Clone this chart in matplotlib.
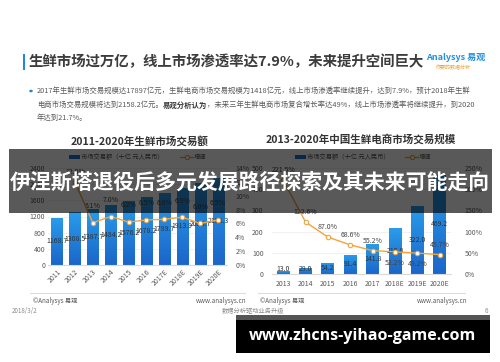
import matplotlib
matplotlib.use('Agg')
import matplotlib.pyplot as plt
import numpy as np
from matplotlib.patches import Rectangle, Circle
from matplotlib.lines import Line2D
from matplotlib.colors import LinearSegmentedColormap

plt.rcParams['font.family'] = ['Noto Sans CJK SC', 'DejaVu Sans']

# ---------------- data ----------------
left_years = ['2011', '2012', '2013', '2014', '2015', '2016', '2017E', '2018E', '2019E', '2020E']
left_values = [1168.7, 1308.5, 1387.7, 1484.2, 1576.2, 1678.2, 1789.7, 1913.9, 2028.7, 2158.3]
left_growth = [None, 12.0, 6.1, 7.0, 6.2, 6.5, 6.6, 6.9, 6.0, 6.5]

right_years = ['2013', '2014', '2015', '2016', '2017', '2018E', '2019E', '2020E']
right_values = [13.0, 29.0, 54.2, 91.4, 141.8, 215.8, 322.0, 469.2]
right_growth = [221.5, 122.6, 87.0, 68.6, 55.2, 52.2, 49.2, 45.7]
right_growth_below = [False, False, False, False, False, True, True, False]

left_yticks = [0, 400, 800, 1200, 1600, 2000, 2400]
left_rticks = [0, 2, 4, 6, 8, 10, 12, 14]
right_yticks = [0, 100, 200, 300, 400, 500]
right_rticks = [0, 50, 100, 150, 200, 250]

title = '生鲜市场过万亿，线上市场渗透率达7.9%，未来提升空间巨大'
bullet1 = '2017年生鲜市场交易规模达17897亿元，生鲜电商市场交易规模为1418亿元，线上市场渗透率继续提升，达到7.9%，预计2018年生鲜'
bullet2a = '电商市场交易规模将达到2158.2亿元。'
bullet2b = '易观分析认为'
bullet2c = '，未来三年生鲜电商市场复合增长率达49%，线上市场渗透率将继续提升，到2020'
bullet3 = '年达到21.7%。'
left_title = '2011-2020年生鲜市场交易额'
right_title = '2013-2020年中国生鲜电商市场交易规模'
legend_bar = '市场交易额（十亿 元人民币）'
legend_line = '增速'
banner = '伊涅斯塔退役后多元发展路径探索及其未来可能走向'
url = 'www.zhcns-yihao-game.com'

W, H = 500, 362
fig = plt.figure(figsize=(W / 100, H / 100), dpi=100)
fig.patch.set_facecolor('white')

def fx(px):
    return px / W

def fy(py):
    return 1 - py / H

TXT = '#595959'
ORANGE = '#f2a43a'
grad = LinearSegmentedColormap.from_list('g', ['#1b66c9', '#2a9cea'])

def grad_bars(ax, bars):
    img = np.linspace(0, 1, 64).reshape(-1, 1)
    for b in bars:
        x0, w, h = b.get_x(), b.get_width(), b.get_height()
        im = ax.imshow(img, extent=[x0, x0 + w, 0, h], origin='lower', cmap=grad,
                       aspect='auto', zorder=2)
        im.set_clip_path(b)
        b.set_alpha(0)

def style(ax):
    for s in ['top', 'left', 'right']:
        ax.spines[s].set_visible(False)
    ax.spines['bottom'].set_color('#d9d9d9')
    ax.spines['bottom'].set_linewidth(0.8)
    ax.grid(axis='y', color='#efefef', linewidth=0.6, zorder=0)
    ax.set_axisbelow(True)
    ax.tick_params(length=0, labelsize=5, colors=TXT, pad=2)

# ---------------- header ----------------
fig.add_artist(Rectangle((fx(23), fy(70)), fx(2), 16 / H, transform=fig.transFigure,
                         facecolor='#1e88e5', edgecolor='none'))
fig.text(fx(29), fy(62), title, fontsize=10.4, fontweight='bold', color='#3c3c3c',
         va='center', ha='left')
fig.text(fx(426), fy(57), 'Analysys 易观', fontsize=6.5, color='#1f8fe0',
         fontweight='bold', va='center', ha='left', style='italic')
fig.text(fx(436), fy(67.5), '你要的数据分析', fontsize=3.6, color='#f0a030',
         va='center', ha='left')

BS = 5.3
fig.add_artist(Circle((fx(31), fy(91)), 1.8 / W, transform=fig.transFigure,
                      facecolor='#1e88e5', edgecolor='none'))
fig.text(fx(37), fy(91), bullet1, fontsize=BS, color=TXT, va='center', ha='left')
r = fig.canvas.get_renderer()
t = fig.text(fx(37), fy(105), bullet2a, fontsize=BS, color=TXT, va='center', ha='left')
bb = t.get_window_extent(r)
t2 = fig.text(bb.x1 / W, fy(105), bullet2b, fontsize=BS, color='#333333',
              fontweight='bold', va='center', ha='left')
bb2 = t2.get_window_extent(r)
fig.text(bb2.x1 / W, fy(105), bullet2c, fontsize=BS, color=TXT, va='center', ha='left')
fig.text(fx(37), fy(118), bullet3, fontsize=BS, color=TXT, va='center', ha='left')

# chart titles
fig.text(fx(140), fy(141), left_title, fontsize=7.6, fontweight='bold', color='#333333',
         ha='center', va='center')
fig.text(fx(361), fy(139), right_title, fontsize=7.6, fontweight='bold', color='#333333',
         ha='center', va='center')

# legends
def legend(xb, xl, y):
    fig.add_artist(Rectangle((fx(xb), fy(y + 2)), 11 / W, 4 / H, transform=fig.transFigure,
                             facecolor='#1f6fcf', edgecolor='none'))
    fig.text(fx(xb + 12), fy(y), legend_bar, fontsize=4.5, color=TXT, va='center', ha='left')
    fig.add_artist(Line2D([fx(xl), fx(xl + 13)], [fy(y), fy(y)], transform=fig.transFigure,
                          color=ORANGE, lw=1))
    fig.add_artist(Line2D([fx(xl + 6.5)], [fy(y)], transform=fig.transFigure,
                          color=ORANGE, lw=0, marker='o', markersize=3,
                          markerfacecolor='white', markeredgewidth=0.8))
    fig.text(fx(xl + 14), fy(y), legend_line, fontsize=4.5, color=TXT, va='center', ha='left')

legend(69, 180, 157)
legend(295, 405, 157)

# ---------------- left chart ----------------
axL = fig.add_axes([fx(48), fy(265), 179 / W, 97 / H])
xl = np.arange(len(left_values))
bars = axL.bar(xl, left_values, width=0.62, color='#1f7fdc', zorder=2)
axL.set_xlim(-0.5, len(left_values) - 0.5)
axL.set_ylim(0, 2400)
grad_bars(axL, bars)
axL.set_yticks(left_yticks)
axL.set_xticks(xl)
axL.set_xticklabels(left_years, rotation=45, ha='right', rotation_mode='anchor')
style(axL)
for xi, v in zip(xl, left_values):
    axL.text(xi, v / 2, f'{v:.1f}', fontsize=5, color='#333333', ha='center', va='center',
             zorder=5)
axL2 = axL.twinx()
gx = [i for i, g in enumerate(left_growth) if g is not None]
gy = [g for g in left_growth if g is not None]
axL2.plot(gx, gy, color=ORANGE, lw=1, marker='o', markersize=3.2,
          markerfacecolor='white', markeredgewidth=0.8, zorder=4)
axL2.set_ylim(0, 14)
axL2.set_yticks(left_rticks)
axL2.set_yticklabels([f'{v}%' for v in left_rticks])
for xi, g in zip(gx, gy):
    off = 7 if g > 10 else 12
    axL2.annotate(f'{g:.1f}%', (xi, g), xytext=(0, off), textcoords='offset points',
                  fontsize=5, color='#444444', ha='center', va='center')
for s in axL2.spines.values():
    s.set_visible(False)
axL2.tick_params(length=0, labelsize=5, colors=TXT, pad=6)

# ---------------- right chart ----------------
axR = fig.add_axes([fx(272), fy(274), 179 / W, 106 / H])
xr = np.arange(len(right_values))
bars = axR.bar(xr, right_values, width=0.58, color='#1f7fdc', zorder=2)
axR.set_xlim(-0.5, len(right_values) - 0.5)
axR.set_ylim(0, 500)
grad_bars(axR, bars)
axR.set_yticks(right_yticks)
axR.set_xticks(xr)
axR.set_xticklabels(right_years)
style(axR)
axR.tick_params(axis='x', pad=4)
axR.tick_params(axis='y', pad=6)
for xi, v in zip(xr, right_values):
    axR.text(xi, max(v / 2, 23), f'{v:.1f}', fontsize=5, color='#333333', ha='center',
             va='center', zorder=5)
axR2 = axR.twinx()
axR2.plot(xr, right_growth, color=ORANGE, lw=1, marker='o', markersize=3.2,
          markerfacecolor='white', markeredgewidth=0.8, zorder=4)
axR2.set_ylim(0, 250)
axR2.set_yticks(right_rticks)
axR2.set_yticklabels([f'{v}%' for v in right_rticks])
for xi, g, below in zip(xr, right_growth, right_growth_below):
    axR2.annotate(f'{g:.1f}%', (xi, g), xytext=(0, -8 if below else 7),
                  textcoords='offset points', fontsize=5, color='#444444',
                  ha='center', va='center')
for s in axR2.spines.values():
    s.set_visible(False)
axR2.tick_params(length=0, labelsize=5, colors=TXT, pad=10)

# ---------------- footers ----------------
for x0, x1 in [(30, 245), (258, 465)]:
    fig.add_artist(Line2D([fx(x0), fx(x1)], [fy(292.5), fy(292.5)], transform=fig.transFigure,
                          color='#dddddd', lw=0.8))
for xa, xb in [(33, 246), (260, 467)]:
    fig.text(fx(xa), fy(301), '©Analysys 易观', fontsize=4.5, color=TXT, va='center', ha='left')
    fig.text(fx(xb), fy(301), 'www.analysys.cn', fontsize=4.5, color=TXT, va='center',
             ha='right')
fig.text(fx(12), fy(311), '2018/3/2', fontsize=4.5, color='#8c8c8c', va='center', ha='left')
fig.text(fx(222), fy(311), '数据分析驱动业务升级', fontsize=4.5, color='#8c8c8c',
         va='center', ha='left')
fig.text(fx(485), fy(311), '6', fontsize=4.5, color='#8c8c8c', va='center', ha='left')

# ---------------- overlays ----------------
fig.add_artist(Rectangle((fx(9), fy(213)), (492 - 9) / W, 64 / H, transform=fig.transFigure,
                         facecolor='black', alpha=0.65, edgecolor='none', zorder=10))
fig.text(fx(250), fy(182), banner, fontsize=15, fontweight='bold', color='white',
         ha='center', va='center', zorder=11)

fig.add_artist(Rectangle((fx(236), fy(320)), (490 - 236) / W, 5 / H,
                         transform=fig.transFigure, facecolor='#555555', edgecolor='none',
                         zorder=10))
fig.add_artist(Rectangle((fx(236), fy(353)), (490 - 236) / W, 33 / H,
                         transform=fig.transFigure, facecolor='black', edgecolor='none',
                         zorder=10))
fig.text(fx(362), fy(336), url, fontsize=11.5, fontweight='bold', color='white',
         ha='center', va='center', zorder=11, family=['Open Sans', 'DejaVu Sans'])

fig.savefig('out.png', dpi=100)
